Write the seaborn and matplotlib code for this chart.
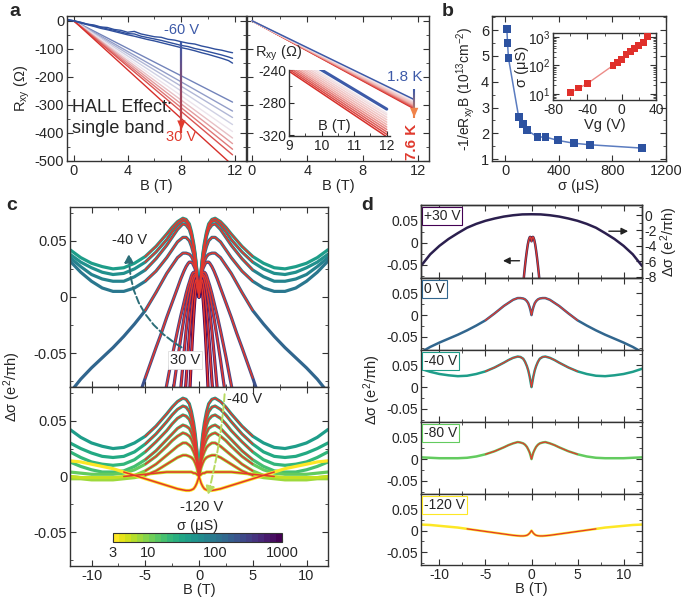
import numpy as np
import matplotlib
matplotlib.use("Agg")
import matplotlib.pyplot as plt
from matplotlib.colors import LogNorm, LinearSegmentedColormap
from matplotlib.cm import ScalarMappable
from matplotlib.collections import LineCollection
from matplotlib.ticker import MultipleLocator
import seaborn as sns

sns.set_style("ticks")
plt.rcParams['font.family'] = ['Liberation Sans', 'DejaVu Sans']
plt.rcParams['mathtext.fontset'] = 'custom'
plt.rcParams['mathtext.rm'] = 'Liberation Sans'
plt.rcParams['mathtext.it'] = 'Liberation Sans:italic'
plt.rcParams['mathtext.bf'] = 'Liberation Sans:bold'
plt.rcParams['axes.unicode_minus'] = False
plt.rcParams['axes.edgecolor'] = '#333333'
plt.rcParams['axes.linewidth'] = 1.0

# ---------------- panel a (left): Hall resistance vs B at gate voltages ----------------
hall_noisy_B = [-0.5, 0, 0.5, 1, 1.5, 2, 2.5, 3, 3.5, 4, 4.5, 5, 5.5, 6, 6.5, 7, 7.5, 8,
                8.5, 9, 9.5, 10, 10.5, 11, 11.5, 11.8]
hall_noisy_1 = [3, 0, -6, -12, -15, -22, -24, -31, -34, -41, -38, -47, -52, -57, -59, -66, -69,
                -75, -80, -83, -90, -95, -101, -105, -111, -114]
hall_noisy_2 = [2, 0, -5, -12, -18, -23, -29, -34, -40, -46, -47, -55, -60, -65, -70, -76, -82,
                -88, -92, -99, -104, -110, -116, -122, -129, -134]
hall_noisy_3 = [5, 0, -8, -14, -20, -27, -32, -38, -44, -50, -55, -61, -67, -72, -78, -84, -90,
                -96, -101, -107, -114, -120, -127, -134, -142, -151]
hall_line_end_B = 11.8
hall_line_end_R = [-290, -322, -345, -370, -395, -418, -438, -458, -478, -515]

# ---------------- panel a (right): temperature dependence ----------------
temp_K = [1.8, 2.3, 2.8, 3.3, 3.8, 4.3, 4.8, 5.3, 5.8, 6.4, 7.0, 7.6]
rxy_at_12T = [-288, -293, -295, -298, -301, -304, -307, -310, -313, -316, -319, -322]

# ---------------- panel b: carrier density vs conductivity, inset sigma vs Vg ----------------
vg_V = [-60, -50, -40, -10, -5, 0, 5, 10, 15, 20, 25, 30]
sigma_uS = [11, 16, 23, 100, 130, 160, 240, 300, 390, 510, 630, 1020]
density = [6.05, 5.5, 4.92, 2.62, 2.36, 2.13, 1.86, 1.86, 1.73, 1.62, 1.56, 1.43]

# ---------------- panel c/d: magnetoconductance (B >= 0 half, mirrored) ----------------
wide_B = [0, 0.1, 0.2, 0.35, 0.5, 0.7, 0.9, 1.2, 1.5, 2.0, 2.5, 3.0, 4.0, 5.0, 6.0, 7.0, 8.0,
          9.0, 10.0, 11.0, 12.0]
narrow_B = [0, 0.05, 0.1, 0.15, 0.2, 0.3, 0.4, 0.5, 0.6, 0.7, 0.8, 0.9, 1.0, 1.2, 1.4, 1.7,
            2.0, 2.5, 3.0, 3.5, 4.0, 5.0, 6.0]

# top of panel c: -40 V ... +30 V
c_top_sigma = [40, 55, 75, 100, 150, 240, 300, 390, 510, 700, 1000]
ds_m40 = [0.000, 0.012, 0.024, 0.038, 0.048, 0.058, 0.065, 0.069, 0.070, 0.067, 0.062, 0.056,
          0.045, 0.036, 0.030, 0.026, 0.025, 0.027, 0.030, 0.035, 0.042]
ds_g2 = [0.000, 0.012, 0.023, 0.036, 0.046, 0.056, 0.063, 0.067, 0.068, 0.064, 0.058, 0.051,
         0.040, 0.031, 0.025, 0.021, 0.020, 0.022, 0.026, 0.031, 0.038]
ds_g3 = [0.000, 0.011, 0.022, 0.035, 0.044, 0.054, 0.060, 0.064, 0.065, 0.060, 0.053, 0.046,
         0.034, 0.024, 0.018, 0.014, 0.014, 0.016, 0.020, 0.027, 0.035]
ds_g4 = [0.000, 0.010, 0.019, 0.030, 0.038, 0.045, 0.050, 0.053, 0.053, 0.049, 0.042, 0.035,
         0.023, 0.014, 0.008, 0.005, 0.005, 0.008, 0.014, 0.022, 0.032]
ds_0V = [0.000, 0.010, 0.018, 0.027, 0.032, 0.036, 0.038, 0.039, 0.039, 0.035, 0.028, 0.021,
         0.004, -0.012, -0.024, -0.035, -0.045, -0.054, -0.063, -0.073, -0.085]
ds_p2 = [0.000, 0.006, 0.011, 0.015, 0.018, 0.023, 0.026, 0.028, 0.030, 0.031, 0.031, 0.031,
         0.030, 0.027, 0.023, 0.016, 0.008, -0.005, -0.018, -0.032, -0.045, -0.072, -0.100]
ds_p3 = [0.000, 0.006, 0.011, 0.015, 0.018, 0.021, 0.022, 0.022, 0.021, 0.019, 0.016, 0.013,
         0.010, 0.003, -0.005, -0.017, -0.030, -0.053, -0.078, -0.103]
ds_p4 = [0.000, 0.006, 0.011, 0.015, 0.018, 0.020, 0.020, 0.019, 0.017, 0.014, 0.010, 0.006,
         0.002, -0.008, -0.019, -0.037, -0.056, -0.090]
ds_p5 = [0.000, 0.006, 0.011, 0.015, 0.017, 0.019, 0.018, 0.015, 0.011, 0.006, 0.000, -0.006,
         -0.013, -0.030, -0.050, -0.082, -0.110]
ds_p6 = [0.000, 0.006, 0.010, 0.013, 0.015, 0.015, 0.011, 0.005, -0.003, -0.012, -0.022, -0.034,
         -0.046, -0.074, -0.100]
ds_30V = [0.003, 0.008, 0.012, 0.013, 0.012, 0.006, -0.004, -0.018, -0.034, -0.052, -0.072, -0.093]
c_top_curves = [ds_m40, ds_g2, ds_g3, ds_g4, ds_0V, ds_p2, ds_p3, ds_p4, ds_p5, ds_p6, ds_30V]

# bottom of panel c: -40 V ... -120 V
c_bot_gate = [-40, -50, -60, -70, -80, -90, -100, -110, -120]
c_bot_sigma = [40, 30, 22, 17, 12, 9, 7, 5, 3]
ds_m50 = [0.000, 0.011, 0.022, 0.034, 0.043, 0.052, 0.058, 0.062, 0.063, 0.060, 0.055, 0.049,
          0.038, 0.029, 0.022, 0.018, 0.017, 0.018, 0.021, 0.025, 0.030]
ds_m60 = [0.000, 0.010, 0.020, 0.030, 0.038, 0.046, 0.051, 0.054, 0.055, 0.052, 0.047, 0.041,
          0.031, 0.022, 0.015, 0.011, 0.010, 0.011, 0.013, 0.017, 0.022]
ds_m70 = [0.000, 0.009, 0.017, 0.026, 0.033, 0.039, 0.043, 0.045, 0.046, 0.043, 0.038, 0.033,
          0.023, 0.015, 0.009, 0.005, 0.004, 0.004, 0.006, 0.009, 0.013]
ds_m80 = [0.000, 0.008, 0.015, 0.022, 0.028, 0.033, 0.036, 0.038, 0.039, 0.036, 0.032, 0.027,
          0.018, 0.011, 0.006, 0.003, 0.002, 0.002, 0.002, 0.003, 0.004]
ds_m90 = [0.000, 0.006, 0.012, 0.018, 0.022, 0.026, 0.028, 0.030, 0.030, 0.027, 0.023, 0.019,
          0.011, 0.005, 0.001, -0.001, -0.002, -0.002, -0.002, -0.001, 0.000]
ds_m100 = [0.000, 0.004, 0.008, 0.012, 0.015, 0.017, 0.018, 0.019, 0.019, 0.017, 0.014, 0.011,
           0.005, 0.001, -0.001, -0.002, -0.003, -0.003, -0.003, -0.002, -0.002]
ds_m110 = [0.000, 0.001, 0.002, 0.003, 0.003, 0.004, 0.004, 0.004, 0.004, 0.004, 0.004, 0.004,
           0.003, 0.002, 0.001, 0.000, -0.001, -0.001, -0.001, -0.001, 0.000]
ds_m120 = [0.000, -0.003, -0.006, -0.009, -0.011, -0.012, -0.0125, -0.0125, -0.012, -0.011,
           -0.0095, -0.008, -0.005, -0.002, 0.001, 0.004, 0.007, 0.009, 0.011, 0.013, 0.014]
c_bot_curves = [ds_m40, ds_m50, ds_m60, ds_m70, ds_m80, ds_m90, ds_m100, ds_m110, ds_m120]
c_bot_fit_lim = [5, 5, 5, 5, 5, 5, 5, 7, 7]

# panel d, +30 V on right axis
d30_right_B = [0, 1, 2, 3, 4, 5, 6, 7, 8, 9, 10, 11, 12]
d30_right = [0.1, 0.08, -0.03, -0.2, -0.45, -0.75, -1.15, -1.65, -2.35, -3.1, -4.0, -5.1, -6.6]
d_labels = ['+30 V', '0 V', '-40 V', '-80 V', '-120 V']
d_sigma = [1000, 150, 40, 12, 3]

FIT = '#e2372d'
W, H = 681, 599
cmap_s = plt.get_cmap('viridis_r')
norm_s = LogNorm(3, 1000)


def box(l, t, r, b):
    return [l / W, 1 - b / H, (r - l) / W, (b - t) / H]


def style(ax, fs):
    ax.tick_params(which='both', direction='in', top=True, right=True, labelsize=fs, pad=2,
                   color='#333333')
    ax.tick_params(which='major', length=4, width=0.8)
    ax.tick_params(which='minor', length=2, width=0.6)


def mirror(b, v):
    return [-x for x in b[:0:-1]] + list(b), list(v[:0:-1]) + list(v)


def draw_data(ax, b, v, color, lw):
    xb, yv = mirror(b, v)
    sns.lineplot(x=xb, y=yv, ax=ax, color=color, lw=lw, estimator=None, sort=False)


def draw_fit(ax, b, v, lim, lw):
    xb, yv = mirror(b, v)
    keep = [i for i, x in enumerate(xb) if abs(x) <= lim]
    sns.lineplot(x=[xb[i] for i in keep], y=[yv[i] for i in keep], ax=ax, color=FIT, lw=lw,
                 estimator=None, sort=False)


def grad_arrow(ax, x0, y0, x1, y1, c0, c1, lw=1.6, hw=0.35):
    t = np.linspace(0, 1, 40)
    xs = x0 + (x1 - x0) * t
    ys = y0 + (y1 - y0) * t
    seg = np.stack([np.column_stack([xs[:-1], ys[:-1]]), np.column_stack([xs[1:], ys[1:]])], axis=1)
    cm = LinearSegmentedColormap.from_list('g', [c0, c1])
    lc = LineCollection(seg, colors=cm(t[:-1]), linewidths=lw)
    ax.add_collection(lc)
    ax.annotate('', xy=(x1, y1), xytext=(x0 + (x1 - x0) * 0.9, y0 + (y1 - y0) * 0.9),
                arrowprops=dict(arrowstyle='-|>,head_width=%g,head_length=0.7' % hw,
                                color=c1, lw=0), zorder=5)


fig = plt.figure(figsize=(W / 100, H / 100), dpi=100)

# ================= panel a left =================
axa = fig.add_axes(box(67, 16, 246, 161))
cm_a = LinearSegmentedColormap.from_list('a', ['#4d64aa', '#ece8f0', '#d62f2a'])
pos_a = np.linspace(0.12, 1.0, len(hall_line_end_R))
for r, p in zip(hall_line_end_R, pos_a):
    sns.lineplot(x=[0, hall_line_end_B], y=[0, r], ax=axa, color=cm_a(p), lw=1.0, estimator=None)
for ys in [hall_noisy_1, hall_noisy_2, hall_noisy_3]:
    sns.lineplot(x=hall_noisy_B, y=ys, ax=axa, color='#2f4f9c', lw=1.0, estimator=None)
axa.set_xlim(-0.5, 12.8)
axa.set_ylim(-500, 17)
axa.set_xticks([0, 4, 8, 12])
axa.xaxis.set_minor_locator(MultipleLocator(2))
axa.set_yticks([-500, -400, -300, -200, -100, 0])
axa.yaxis.set_minor_locator(MultipleLocator(50))
style(axa, 10.5)
axa.set_xlabel('B (T)', fontsize=10.5, labelpad=1)
axa.set_ylabel(r'R$_\mathrm{xy}$ ($\Omega$)', fontsize=10.5, labelpad=2)
grad_arrow(axa, 8, -75, 8, -400, '#3d5aa8', '#e03a2e', lw=1.6, hw=0.3)
axa.text(8, -33, '-60 V', color='#3d5aa8', fontsize=10.5, ha='center', va='center')
axa.text(8, -415, '30 V', color='#e03a2e', fontsize=10.5, ha='center', va='center')
axa.text(-0.1, -310, 'HALL Effect:', fontsize=13, va='center')
axa.text(-0.1, -385, 'single band', fontsize=13, va='center')

# ================= panel a right =================
axt = fig.add_axes(box(247, 16, 429, 161))
cm_t = LinearSegmentedColormap.from_list('t', ['#f2e6ea', '#f0b2ae', '#d62f2a'])
t_colors = ['#3d5aa8'] + [cm_t(p) for p in np.linspace(0, 1, len(temp_K) - 1)]
for r, c in list(zip(rxy_at_12T, t_colors))[::-1]:
    sns.lineplot(x=[0, 11.7], y=[0, r * 11.7 / 12], ax=axt, color=c, lw=1.1, estimator=None)
axt.set_xlim(-0.36, 12.77)
axt.set_ylim(-500, 17)
axt.set_xticks([0, 4, 8, 12])
axt.xaxis.set_minor_locator(MultipleLocator(2))
axt.set_yticks([-500, -400, -300, -200, -100, 0])
axt.yaxis.set_minor_locator(MultipleLocator(50))
axt.set_yticklabels([])
style(axt, 10.5)
axt.set_xlabel('B (T)', fontsize=10.5, labelpad=1)
axt.text(11.0, -200, '1.8 K', color='#3d5aa8', fontsize=11, ha='center', va='center')
axt.text(11.55, -432, '7.6 K', color='#e03a2e', fontsize=11, ha='center', va='center',
         rotation=90, fontweight='bold')
grad_arrow(axt, 11.7, -245, 11.7, -345, '#3d5aa8', '#f0834a', lw=1.5, hw=0.3)

axi = fig.add_axes(box(289, 70, 390, 136))
axi.patch.set_alpha(0)
for r, c in list(zip(rxy_at_12T, t_colors))[::-1]:
    sns.lineplot(x=[9, 12], y=[r * 9 / 12, r], ax=axi, color=c,
                 lw=2.2 if c == '#3d5aa8' else 1.1, estimator=None)
axi.set_xlim(9, 12.1)
axi.set_ylim(-321, -240)
axi.set_xticks([9, 10, 11, 12])
axi.set_yticks([-320, -280, -240])
axi.xaxis.set_minor_locator(MultipleLocator(0.5))
axi.yaxis.set_minor_locator(MultipleLocator(20))
axi.spines['top'].set_visible(False)
axi.spines['right'].set_visible(False)
axi.tick_params(which='both', direction='in', labelsize=10, pad=2)
axi.tick_params(which='major', length=3.5)
axi.tick_params(which='minor', length=2)
axi.text(10.4, -309, 'B (T)', fontsize=10.5, ha='center', va='center')
fig.text(255 / W, 1 - 53 / H, r'R$_\mathrm{xy}$ ($\Omega$)', fontsize=10.5, va='center')

# ================= panel b =================
axb = fig.add_axes(box(492, 16, 666, 161))
sns.lineplot(x=sigma_uS, y=density, ax=axb, color='#5b7cc0', lw=1.1, estimator=None)
sns.scatterplot(x=sigma_uS, y=density, ax=axb, color='#2d52a0', marker='s', s=32,
                edgecolor='none', zorder=3)
axb.set_xlim(-100, 1200)
axb.set_ylim(0.93, 6.55)
axb.set_xticks([0, 400, 800, 1200])
axb.xaxis.set_minor_locator(MultipleLocator(200))
axb.set_yticks([1, 2, 3, 4, 5, 6])
axb.yaxis.set_minor_locator(MultipleLocator(0.5))
style(axb, 10.5)
axb.set_xlabel('σ (μS)', fontsize=10.5, labelpad=1)
axb.set_ylabel(r'-1/eR$_\mathrm{xy}$B (10$^{13}$cm$^{-2}$)', fontsize=10, labelpad=3)

axbi = fig.add_axes(box(553, 33, 656, 100))
axbi.set_yscale('log')
sns.lineplot(x=vg_V, y=sigma_uS, ax=axbi, color='#ec8c88', lw=1.0, estimator=None)
sns.scatterplot(x=vg_V, y=sigma_uS, ax=axbi, color='#e0302b', marker='s', s=24,
                edgecolor='none', zorder=3)
axbi.set_xlim(-80, 40)
axbi.set_ylim(6.1, 1380)
axbi.set_xticks([-80, -40, 0, 40])
axbi.xaxis.set_minor_locator(MultipleLocator(20))
style(axbi, 10)
axbi.set_xlabel('Vg (V)', fontsize=10.5, labelpad=1)
axbi.set_ylabel('σ (μS)', fontsize=10.5, labelpad=-1)

# ================= panel c =================
axc1 = fig.add_axes(box(70, 207, 328, 387))
axc2 = fig.add_axes(box(70, 387, 328, 566))
for vals, s in zip(c_top_curves, c_top_sigma):
    grid = wide_B if len(vals) == len(wide_B) else narrow_B[:len(vals)]
    draw_data(axc1, grid, vals, cmap_s(norm_s(s)), 2.3)
for vals, s in zip(c_top_curves, c_top_sigma):
    grid = wide_B if len(vals) == len(wide_B) else narrow_B[:len(vals)]
    draw_fit(axc1, grid, vals, 5, 1.1)
for vals, s in zip(c_bot_curves, c_bot_sigma):
    draw_data(axc2, wide_B, vals, cmap_s(norm_s(s)), 2.3)
for vals, lim in zip(c_bot_curves, c_bot_fit_lim):
    draw_fit(axc2, wide_B, vals, lim, 1.1)

for ax in (axc1, axc2):
    ax.set_xlim(-12, 12)
    ax.set_ylim(-0.08, 0.08)
    ax.set_xticks([-10, -5, 0, 5, 10])
    ax.xaxis.set_minor_locator(MultipleLocator(2.5))
    ax.set_yticks([-0.05, 0, 0.05])
    ax.set_yticklabels(['-0.05', '0', '0.05'])
    ax.yaxis.set_minor_locator(MultipleLocator(0.025))
    style(ax, 10.5)
    ax.set_ylabel('')
axc1.set_xticklabels([])
axc2.set_xlabel('B (T)', fontsize=10.5, labelpad=0)
fig.text(12 / W, 1 - 387 / H, r'Δσ (e$^2$/πh)', rotation=90, fontsize=10.5,
         ha='center', va='center')

axc1.annotate('', xy=(-6.5, 0.041), xytext=(-1.4, -0.046),
              arrowprops=dict(arrowstyle='-|>,head_width=0.25,head_length=0.5', color='#2c6e78',
                              ls='--', lw=1.4, connectionstyle='arc3,rad=-0.3'))
axc1.text(-6.5, 0.051, '-40 V', fontsize=10.5, ha='center', va='center')
axc1.text(-1.3, -0.056, '30 V', fontsize=10.5, ha='center', va='center',
          bbox=dict(boxstyle='square,pad=0.15', fc='white', ec='#dddddd', lw=0.6))
axc2.annotate('', xy=(0.75, -0.019), xytext=(2.4, 0.076),
              arrowprops=dict(arrowstyle='-|>,head_width=0.25,head_length=0.5', color='#b8da62',
                              ls='--', lw=1.4, connectionstyle='arc3,rad=-0.05'))
axc2.text(4.2, 0.069, '-40 V', fontsize=10.5, ha='center', va='center')
axc2.text(0.2, -0.0275, '-120 V', fontsize=10.5, ha='center', va='center')

cax = fig.add_axes(box(113, 533, 282, 542))
cb = fig.colorbar(ScalarMappable(norm=norm_s, cmap=plt.get_cmap('viridis_r', 28)), cax=cax,
                  orientation='horizontal')
cb.set_ticks([3, 10, 100, 1000])
cb.set_ticklabels(['3', '10', '100', '1000'])
cb.ax.minorticks_off()
cb.ax.tick_params(labelsize=10.5, length=2, direction='in', pad=3)
cb.outline.set_linewidth(0.8)
cax.set_title('σ (μS)', fontsize=10.5, pad=2)

# ================= panel d =================
rows = [(205, 278), (278, 350), (350, 422), (422, 494), (494, 565)]
d_axes = [fig.add_axes(box(421, t, 642, b)) for t, b in rows]
d_data = [(narrow_B[:len(ds_30V)], ds_30V), (wide_B, ds_0V), (wide_B, ds_m40),
          (wide_B, ds_m80), (wide_B, ds_m120)]
d_fit_lim = [5, 5, 5, 5, 7]
for ax, (g, vals), s, lim, lab in zip(d_axes, d_data, d_sigma, d_fit_lim, d_labels):
    col = cmap_s(norm_s(s))
    draw_data(ax, g, vals, col if s != 1000 else '#3a2b5c', 1.8)
    draw_fit(ax, g, vals, lim, 0.9)
    ax.set_xlim(-12, 12)
    ax.set_ylim(-0.08, 0.085)
    ax.set_xticks([-10, -5, 0, 5, 10])
    ax.xaxis.set_minor_locator(MultipleLocator(2.5))
    ax.set_yticks([-0.05, 0, 0.05])
    ax.set_yticklabels(['-0.05', '0', '0.05'])
    ax.yaxis.set_minor_locator(MultipleLocator(0.025))
    style(ax, 10)
    ax.set_ylabel('')
    ax.text(0.012, 0.94, lab, transform=ax.transAxes, fontsize=10, va='top', ha='left',
            bbox=dict(boxstyle='square,pad=0.15', fc='white', ec=col, lw=0.8))
for ax in d_axes[:-1]:
    ax.set_xticklabels([])
d_axes[-1].set_xlabel('B (T)', fontsize=10.5, labelpad=0)

axr = d_axes[0].twinx()
xb, yv = mirror(d30_right_B, d30_right)
sns.lineplot(x=xb, y=yv, ax=axr, color='#2b1f4e', lw=1.8, estimator=None, sort=False)
axr.set_ylim(-8.17, 1.3)
axr.set_yticks([0, -2, -4, -6, -8])
axr.yaxis.set_minor_locator(MultipleLocator(1))
axr.tick_params(which='both', direction='in', labelsize=10, pad=2)
axr.tick_params(which='major', length=4)
axr.tick_params(which='minor', length=2)
axr.set_ylabel(r'Δσ (e$^2$/πh)', fontsize=10.5, labelpad=1)
d_axes[0].annotate('', xy=(-3.4, -0.041), xytext=(-1.0, -0.041),
                   arrowprops=dict(arrowstyle='-|>,head_width=0.2,head_length=0.4', color='#222222', lw=1))
axr.annotate('', xy=(10.8, -2.1), xytext=(8.1, -2.1),
             arrowprops=dict(arrowstyle='-|>,head_width=0.2,head_length=0.4', color='#222222', lw=1))
fig.text(372 / W, 1 - 390 / H, r'Δσ (e$^2$/πh)', rotation=90, fontsize=10.5,
         ha='center', va='center')

# panel letters
for lab, x, y in [('a', 15, 12), ('b', 448, 12), ('c', 12, 205), ('d', 367, 205)]:
    fig.text(x / W, 1 - y / H, lab, fontsize=14, fontweight='bold', ha='center', va='center')

fig.savefig('out.png', dpi=100)
